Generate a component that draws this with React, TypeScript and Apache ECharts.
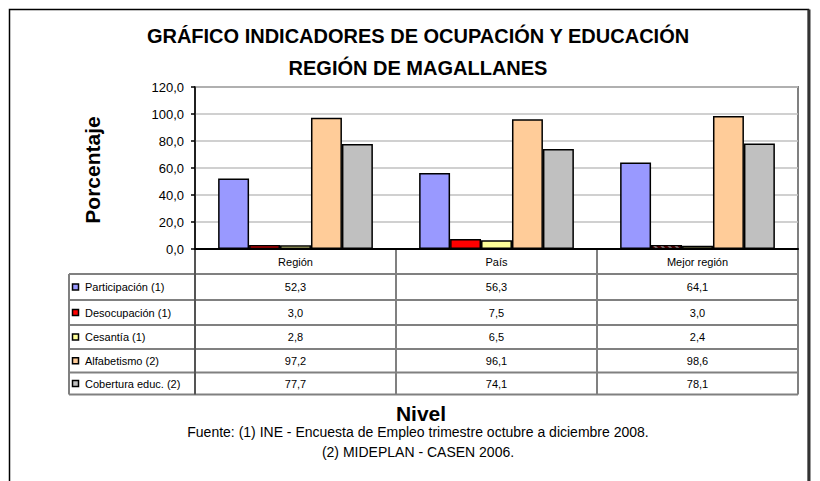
import React, { useEffect, useRef } from "react";
import * as echarts from "echarts";

const categories = ["Región", "País", "Mejor región"];
const seriesNames = [
  "Participación (1)",
  "Desocupación (1)",
  "Cesantía (1)",
  "Alfabetismo (2)",
  "Cobertura educ. (2)",
];
const participacion = [52.3, 56.3, 64.1];
const desocupacion = [3.0, 7.5, 3.0];
const cesantia = [2.8, 6.5, 2.4];
const alfabetismo = [97.2, 96.1, 98.6];
const cobertura = [77.7, 74.1, 78.1];
const seriesColors = ["#9999FF", "#FF0000", "#FFFF99", "#FFCC99", "#C0C0C0"];
const yMin = 0;
const yMax = 120;
const yStep = 20;
const titleLines = [
  "GRÁFICO INDICADORES DE OCUPACIÓN Y EDUCACIÓN",
  "REGIÓN DE MAGALLANES",
];
const yAxisTitle = "Porcentaje";
const xAxisTitle = "Nivel";
const sourceLines = [
  "Fuente: (1) INE - Encuesta de Empleo trimestre octubre a diciembre 2008.",
  "(2) MIDEPLAN - CASEN 2006.",
];

const fmt = (v: number) => v.toFixed(1).replace(".", ",");

export default function App() {
  const ref = useRef<HTMLDivElement>(null);
  useEffect(() => {
    if (!ref.current) return;
    const chart = echarts.init(ref.current, null, { renderer: "svg" });
    const FONT = "'Liberation Sans', Arial, sans-serif";
    const GL = 195;
    const GT = 87;
    const GW = 603;
    const GH = 162;
    const GB = GT + GH;
    const TL = 69;
    const rowLines = [274, 300, 325, 349, 372.5, 394.5];
    const allSeries = [participacion, desocupacion, cesantia, alfabetismo, cobertura];
    const colW = GW / categories.length;

    const graphics: any[] = [];
    // outer frame
    graphics.push({
      type: "rect",
      shape: { x: 9.5, y: 9.5, width: 799, height: 520 },
      style: { fill: "none", stroke: "#000", lineWidth: 1.5 },
      silent: true,
    });
    graphics.push({
      type: "line",
      shape: { x1: 809, y1: 9.5, x2: 809, y2: 481 },
      style: { stroke: "#333", lineWidth: 3 },
      silent: true,
    });
    // titles
    titleLines.forEach((t, i) => {
      graphics.push({
        type: "text",
        x: 418,
        y: 36 + i * 32,
        style: {
          text: t,
          fill: "#000",
          font: `bold 20px ${FONT}`,
          textAlign: "center",
          textVerticalAlign: "middle",
        },
      });
    });
    graphics.push({
      type: "text",
      x: 92,
      y: 170,
      rotation: Math.PI / 2,
      style: {
        text: yAxisTitle,
        fill: "#000",
        font: `bold 21px ${FONT}`,
        textAlign: "center",
        textVerticalAlign: "middle",
      },
    });
    // table horizontal lines
    rowLines.forEach((y) => {
      graphics.push({
        type: "line",
        shape: { x1: TL, y1: y, x2: GL + GW, y2: y },
        style: { stroke: "#808080", lineWidth: 2 },
        silent: true,
      });
    });
    // table vertical lines
    graphics.push({
      type: "line",
      shape: { x1: TL, y1: rowLines[0], x2: TL, y2: rowLines[rowLines.length - 1] },
      style: { stroke: "#808080", lineWidth: 2 },
      silent: true,
    });
    for (let i = 0; i <= categories.length; i++) {
      const x = GL + i * colW;
      graphics.push({
        type: "line",
        shape: { x1: x, y1: GB, x2: x, y2: rowLines[rowLines.length - 1] },
        style: { stroke: i === 0 ? "#555" : "#808080", lineWidth: 2 },
        silent: true,
      });
    }
    // legend cells and values
    seriesNames.forEach((name, r) => {
      const cy = (rowLines[r] + rowLines[r + 1]) / 2;
      graphics.push({
        type: "rect",
        shape: { x: 72.5, y: cy - 3, width: 6, height: 6 },
        style: { fill: seriesColors[r], stroke: "#000", lineWidth: 1.5 },
      });
      graphics.push({
        type: "text",
        x: 85,
        y: cy,
        style: {
          text: name,
          fill: "#000",
          font: `11px ${FONT}`,
          textAlign: "left",
          textVerticalAlign: "middle",
        },
      });
      allSeries[r].forEach((v, c) => {
        graphics.push({
          type: "text",
          x: GL + (c + 0.5) * colW,
          y: cy,
          style: {
            text: fmt(v),
            fill: "#000",
            font: `11px ${FONT}`,
            textAlign: "center",
            textVerticalAlign: "middle",
          },
        });
      });
    });
    graphics.push({
      type: "text",
      x: 421,
      y: 413,
      style: {
        text: xAxisTitle,
        fill: "#000",
        font: `bold 21px ${FONT}`,
        textAlign: "center",
        textVerticalAlign: "middle",
      },
    });
    sourceLines.forEach((t, i) => {
      graphics.push({
        type: "text",
        x: 418,
        y: 432 + i * 19.5,
        style: {
          text: t,
          fill: "#000",
          font: `14px ${FONT}`,
          textAlign: "center",
          textVerticalAlign: "middle",
        },
      });
    });

    chart.setOption({
      animation: false,
      backgroundColor: "#fff",
      textStyle: { fontFamily: FONT },
      grid: {
        left: GL,
        top: GT,
        width: GW,
        height: GH,
        show: true,
        borderColor: "#808080",
        borderWidth: 2,
        backgroundColor: "#fff",
      },
      xAxis: {
        type: "category",
        data: categories,
        axisLine: { show: true, lineStyle: { color: "#000", width: 2 } },
        axisTick: { show: false },
        axisLabel: { color: "#000", fontSize: 11, margin: 7, fontFamily: FONT },
      },
      yAxis: {
        type: "value",
        min: yMin,
        max: yMax,
        interval: yStep,
        axisLine: { show: true, lineStyle: { color: "#000", width: 1.5 } },
        axisTick: { show: true, length: 4, lineStyle: { color: "#000", width: 1.5 } },
        axisLabel: { color: "#000", fontSize: 13, margin: 11, formatter: fmt, fontFamily: FONT },
        splitLine: { show: true, lineStyle: { color: "#C0C0C0", width: 1.5 } },
      },
      series: allSeries.map((vals, i) => ({
        type: "bar",
        name: seriesNames[i],
        barGap: "0%",
        barCategoryGap: "23%",
        itemStyle: { color: seriesColors[i], borderColor: "#000", borderWidth: 1.5 },
        data:
          i === 1
            ? vals.map((v, k) =>
                k === 2
                  ? {
                      value: v,
                      itemStyle: {
                        decal: {
                          symbol: "rect",
                          color: "rgba(255,255,255,0.85)",
                          dashArrayX: [1, 0],
                          dashArrayY: [2, 3],
                          rotation: Math.PI / 4,
                        },
                      },
                    }
                  : v
              )
            : vals,
      })),
      graphic: graphics,
    });
    return () => chart.dispose();
  }, []);
  return (
    <div
      ref={ref}
      style={{ position: "fixed", left: 0, top: 0, width: 820, height: 481 }}
    />
  );
}
